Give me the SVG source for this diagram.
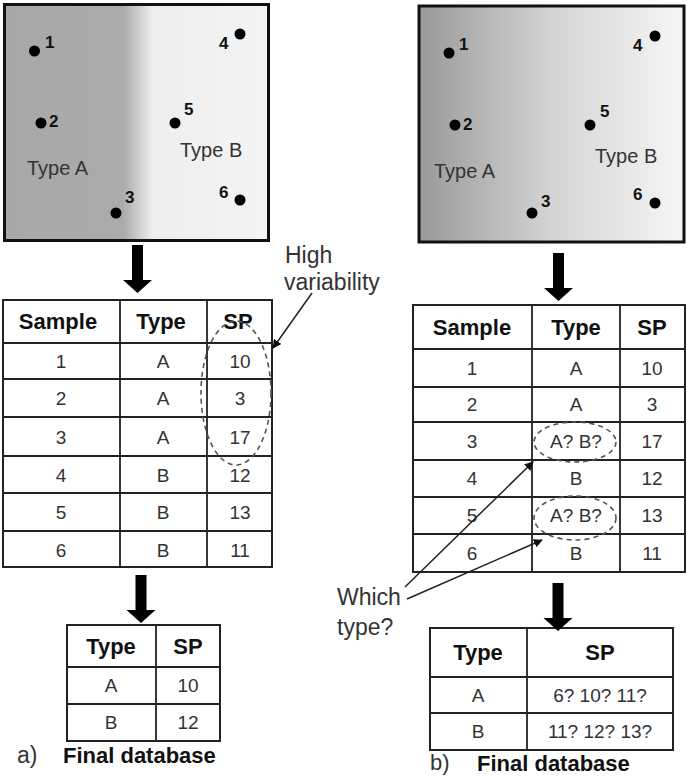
<svg xmlns="http://www.w3.org/2000/svg" width="687" height="778" viewBox="0 0 687 778">
<defs>
<linearGradient id="gA" gradientUnits="userSpaceOnUse" x1="5" y1="0" x2="268" y2="0">
<stop offset="0" stop-color="#a8a8a8"/>
<stop offset="0.45" stop-color="#ababab"/>
<stop offset="0.56" stop-color="#eeeeee"/>
<stop offset="1" stop-color="#f4f4f4"/>
</linearGradient>
<linearGradient id="gB" gradientUnits="userSpaceOnUse" x1="419" y1="0" x2="684" y2="0">
<stop offset="0" stop-color="#999999"/>
<stop offset="0.5" stop-color="#d4d4d4"/>
<stop offset="1" stop-color="#f6f6f6"/>
</linearGradient>
<marker id="ah" viewBox="0 0 10 10" refX="9" refY="5" markerWidth="9" markerHeight="9" markerUnits="userSpaceOnUse" orient="auto">
<path d="M0,0 L10,5 L0,10 z" fill="#111"/>
</marker>
<path id="bigArrow" d="M-5.5,0 H5.5 V35 H14.5 L0,48 L-14.5,35 H-5.5 Z" fill="#000"/>
</defs>
<style>
text{font-family:"Liberation Sans",Arial,sans-serif;fill:#222}
.lbl{font-size:20px;fill:#333}
.num{font-size:17px;font-weight:bold;fill:#111}
.cell{font-size:19px;text-anchor:middle;fill:#333}
.hdr{font-size:22px;font-weight:bold;text-anchor:middle;fill:#111}
.grid{fill:#fff;stroke:#222;stroke-width:2}
.ln{stroke:#222;stroke-width:1.8}
.dash{fill:none;stroke:#555;stroke-width:1.6;stroke-dasharray:5 4}
.conn{stroke:#222;stroke-width:1.5;fill:none}
.big{font-size:23px;fill:#333}
.title{font-size:22px;font-weight:bold;fill:#111}
</style>

<g id="mapA">
<rect x="4.5" y="4.5" width="264" height="236" fill="url(#gA)" stroke="#111" stroke-width="3"/>
<circle cx="34.5" cy="51" r="5.5" fill="#000"/><text class="num" x="45" y="48">1</text>
<circle cx="41" cy="123" r="5.5" fill="#000"/><text class="num" x="49" y="127">2</text>
<circle cx="116" cy="213" r="5.5" fill="#000"/><text class="num" x="125" y="203">3</text>
<circle cx="240" cy="34" r="5.5" fill="#000"/><text class="num" x="219" y="49">4</text>
<circle cx="175" cy="123" r="5.5" fill="#000"/><text class="num" x="184" y="115">5</text>
<circle cx="240" cy="200" r="5.5" fill="#000"/><text class="num" x="219" y="198">6</text>
<text class="lbl" x="27" y="175">Type A</text>
<text class="lbl" x="180" y="157">Type B</text>
</g>

<g id="mapB">
<rect x="419" y="6" width="265" height="236" fill="url(#gB)" stroke="#111" stroke-width="3"/>
<circle cx="449" cy="53" r="5.5" fill="#000"/><text class="num" x="459" y="50">1</text>
<circle cx="455" cy="125" r="5.5" fill="#000"/><text class="num" x="463" y="130">2</text>
<circle cx="532" cy="213" r="5.5" fill="#000"/><text class="num" x="541" y="207">3</text>
<circle cx="655" cy="36" r="5.5" fill="#000"/><text class="num" x="633" y="51">4</text>
<circle cx="590" cy="125" r="5.5" fill="#000"/><text class="num" x="600" y="117">5</text>
<circle cx="655" cy="203" r="5.5" fill="#000"/><text class="num" x="633" y="200">6</text>
<text class="lbl" x="434" y="178">Type A</text>
<text class="lbl" x="595" y="163">Type B</text>
</g>

<g id="tableA">
<rect class="grid" x="3" y="300" width="269" height="267"/>
<line class="ln" x1="120" y1="300" x2="120" y2="567"/>
<line class="ln" x1="207" y1="300" x2="207" y2="567"/>
<line class="ln" x1="3" y1="343" x2="272" y2="343"/>
<line class="ln" x1="3" y1="379" x2="272" y2="379"/>
<line class="ln" x1="3" y1="417" x2="272" y2="417"/>
<line class="ln" x1="3" y1="456" x2="272" y2="456"/>
<line class="ln" x1="3" y1="493" x2="272" y2="493"/>
<line class="ln" x1="3" y1="531" x2="272" y2="531"/>
<text class="hdr" x="58" y="329">Sample</text><text class="hdr" x="161" y="329">Type</text><text class="hdr" x="238" y="329">SP</text>
<text class="cell" x="61" y="368">1</text><text class="cell" x="163" y="368">A</text><text class="cell" x="240" y="368">10</text>
<text class="cell" x="61" y="405">2</text><text class="cell" x="163" y="405">A</text><text class="cell" x="240" y="405">3</text>
<text class="cell" x="61" y="444">3</text><text class="cell" x="163" y="444">A</text><text class="cell" x="240" y="444">17</text>
<text class="cell" x="61" y="482">4</text><text class="cell" x="163" y="482">B</text><text class="cell" x="240" y="482">12</text>
<text class="cell" x="61" y="519">5</text><text class="cell" x="163" y="519">B</text><text class="cell" x="240" y="519">13</text>
<text class="cell" x="61" y="557">6</text><text class="cell" x="163" y="557">B</text><text class="cell" x="240" y="557">11</text>
<ellipse class="dash" cx="236" cy="393" rx="35" ry="72"/>
</g>

<g id="tableB">
<rect class="grid" x="413" y="305" width="272" height="267"/>
<line class="ln" x1="532" y1="305" x2="532" y2="572"/>
<line class="ln" x1="620" y1="305" x2="620" y2="572"/>
<line class="ln" x1="413" y1="349" x2="685" y2="349"/>
<line class="ln" x1="413" y1="387" x2="685" y2="387"/>
<line class="ln" x1="413" y1="422" x2="685" y2="422"/>
<line class="ln" x1="413" y1="460" x2="685" y2="460"/>
<line class="ln" x1="413" y1="497" x2="685" y2="497"/>
<line class="ln" x1="413" y1="534" x2="685" y2="534"/>
<text class="hdr" x="472" y="335">Sample</text><text class="hdr" x="576" y="335">Type</text><text class="hdr" x="652" y="335">SP</text>
<text class="cell" x="472" y="375">1</text><text class="cell" x="576" y="375">A</text><text class="cell" x="652" y="375">10</text>
<text class="cell" x="472" y="411">2</text><text class="cell" x="576" y="411">A</text><text class="cell" x="652" y="411">3</text>
<text class="cell" x="472" y="448">3</text><text class="cell" x="576" y="448">A? B?</text><text class="cell" x="652" y="448">17</text>
<text class="cell" x="472" y="485">4</text><text class="cell" x="576" y="485">B</text><text class="cell" x="652" y="485">12</text>
<text class="cell" x="472" y="522">5</text><text class="cell" x="576" y="522">A? B?</text><text class="cell" x="652" y="522">13</text>
<text class="cell" x="472" y="560">6</text><text class="cell" x="576" y="560">B</text><text class="cell" x="652" y="560">11</text>
<ellipse class="dash" cx="575" cy="442" rx="41" ry="20"/>
<ellipse class="dash" cx="575" cy="518" rx="41" ry="22"/>
</g>

<g id="finalA">
<rect class="grid" x="67" y="625" width="153" height="116"/>
<line class="ln" x1="156" y1="625" x2="156" y2="741"/>
<line class="ln" x1="67" y1="667" x2="220" y2="667"/>
<line class="ln" x1="67" y1="704" x2="220" y2="704"/>
<text class="hdr" x="111" y="654">Type</text><text class="hdr" x="188" y="654">SP</text>
<text class="cell" x="111" y="692">A</text><text class="cell" x="188" y="692">10</text>
<text class="cell" x="111" y="729">B</text><text class="cell" x="188" y="729">12</text>
</g>

<g id="finalB">
<rect class="grid" x="430" y="628" width="243" height="122"/>
<line class="ln" x1="527" y1="628" x2="527" y2="750"/>
<line class="ln" x1="430" y1="677" x2="673" y2="677"/>
<line class="ln" x1="430" y1="713" x2="673" y2="713"/>
<text class="hdr" x="478" y="660">Type</text><text class="hdr" x="600" y="660">SP</text>
<text class="cell" x="478" y="702">A</text><text class="cell" x="600" y="702">6? 10? 11?</text>
<text class="cell" x="478" y="738">B</text><text class="cell" x="600" y="738">11? 12? 13?</text>
</g>

<g id="captions">
<text class="big" x="17" y="763">a)</text>
<text class="title" x="63" y="763">Final database</text>
<text class="big" x="430" y="770" style="font-size:22px">b)</text>
<text class="title" x="477" y="771">Final database</text>
<text class="big" x="285" y="263">High</text>
<text class="big" x="284" y="290">variability</text>
<text class="big" x="337" y="605">Which</text>
<text class="big" x="337" y="635">type?</text>
</g>

<g id="connectors">
<use href="#bigArrow" x="137.5" y="245"/>
<use href="#bigArrow" x="558.5" y="253"/>
<use href="#bigArrow" x="141" y="575"/>
<use href="#bigArrow" x="558" y="583"/>
<line class="conn" x1="312" y1="293" x2="273" y2="348" marker-end="url(#ah)"/>
<line class="conn" x1="405" y1="587" x2="533" y2="462" marker-end="url(#ah)"/>
<line class="conn" x1="407" y1="599" x2="542" y2="540" marker-end="url(#ah)"/>
</g>
</svg>
